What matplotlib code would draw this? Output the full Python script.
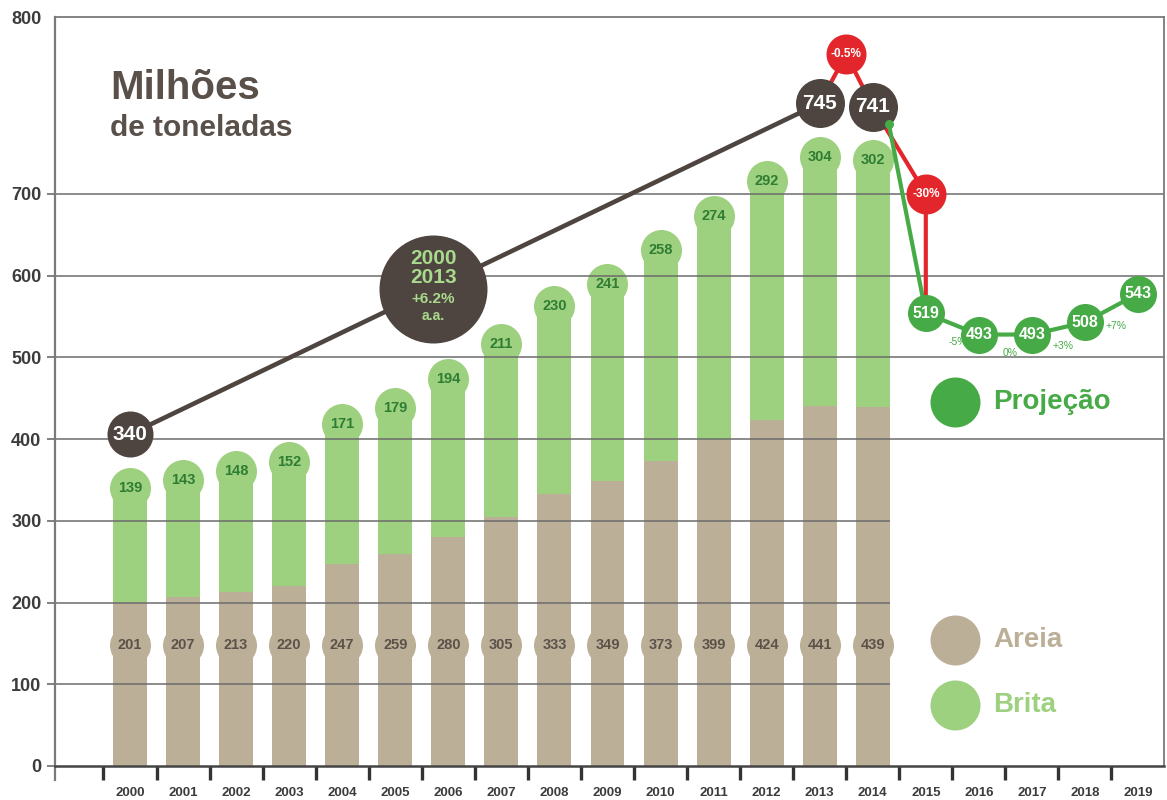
import matplotlib
matplotlib.use("Agg")
import matplotlib.pyplot as plt
import numpy as np
from matplotlib.transforms import offset_copy

plt.rcParams["font.family"] = ["Liberation Sans", "DejaVu Sans"]
plt.rcParams["font.weight"] = "bold"

# ---- data -------------------------------------------------------------
years = [2000, 2001, 2002, 2003, 2004, 2005, 2006, 2007, 2008, 2009,
         2010, 2011, 2012, 2013, 2014, 2015, 2016, 2017, 2018, 2019]
hist_years = years[:15]
areia = [201, 207, 213, 220, 247, 259, 280, 305, 333, 349, 373, 399, 424, 441, 439]
brita = [139, 143, 148, 152, 171, 179, 194, 211, 230, 241, 258, 274, 292, 304, 302]
trend_years = [2000, 2013, 2014]
trend_totals = [340, 745, 741]
proj_years = [2015, 2016, 2017, 2018, 2019]
proj_values = [519, 493, 493, 508, 543]
proj_changes = ["-5%", "0%", "+3%", "+7%"]
drop_small = "-0.5%"
drop_big = "-30%"
cagr_lines = ["2000", "2013", "+6.2%", "a.a."]
ytick_values = [0, 100, 200, 300, 400, 500, 600, 700]
ytick_labels = ["0", "100", "200", "300", "400", "500", "600", "700", "800"]

# ---- style ------------------------------------------------------------
TAN = "#bcaf98"
TAN_TXT = "#5c5249"
LGREEN = "#9dd07f"
LGREEN_TXT = "#2f7d33"
BROWN = "#4e4540"
RED = "#e2262c"
PGREEN = "#46aa46"
GRID = "#6c6c6c"
AXIS = "#3c3c3c"
CAGR_TXT = "#a9d98c"

W, H, DPI = 1167, 800, 100
PT = 72.0 / DPI  # points per pixel


def msize(diam_px):
    return (diam_px * PT) ** 2


fig = plt.figure(figsize=(W / DPI, H / DPI), dpi=DPI)
fig.patch.set_facecolor("white")
ax = fig.add_axes([55 / W, 34 / H, (1164 - 55) / W, (783 - 34) / H])

YTOP = 916.6
XL, XR = -1.414, 19.49
ax.set_xlim(XL, XR)
ax.set_ylim(0, YTOP)

xi = {y: i for i, y in enumerate(years)}
hx = np.array([xi[y] for y in hist_years])
areia = np.array(areia)
brita = np.array(brita)
totals = areia + brita

BAR_W = 0.64
ax.bar(hx, areia, width=BAR_W, color=TAN, zorder=2, linewidth=0)
ax.bar(hx, brita, bottom=areia, width=BAR_W, color=LGREEN, zorder=2, linewidth=0)

# rounded caps carrying the Brita values
ax.scatter(hx, totals, s=msize(41), color=LGREEN, zorder=2.1, linewidths=0)
for x, t, b in zip(hx, totals, brita):
    ax.text(x, t, str(b), ha="center", va="center", fontsize=10.5,
            color=LGREEN_TXT, zorder=5)

# Areia value badges
AREIA_BADGE_Y = 148
ax.scatter(hx, [AREIA_BADGE_Y] * len(hx), s=msize(41), color=TAN, zorder=2.1,
           linewidths=0)
for x, a in zip(hx, areia):
    ax.text(x, AREIA_BADGE_Y, str(a), ha="center", va="center", fontsize=10.5,
            color=TAN_TXT, zorder=5)

# grid lines: upper ones span the whole width, lower ones stop at the last bar
for v in ytick_values[1:]:
    x1 = XR if v >= 400 else hx[-1] + BAR_W / 2
    ax.hlines(v, XL, x1, color=GRID, lw=1.1, zorder=2.5)

# ---- trend (totals) ---------------------------------------------------
LIFT = 66
tx = np.array([xi[y] for y in trend_years])
ty = np.array(trend_totals) + LIFT
ax.plot(tx[:2], ty[:2], color=BROWN, lw=3.3, zorder=3, solid_capstyle="round")

# small drop between 2013 and 2014
small_x = (tx[1] + tx[2]) / 2
small_y = ty[1:].mean() + 62
for k in (1, 2):
    ax.plot([small_x, tx[k]], [small_y, ty[k]], color=RED, lw=3.0, zorder=3)
ax.scatter([small_x], [small_y], s=msize(40), color=RED, zorder=4, linewidths=0)
ax.text(small_x, small_y, drop_small, ha="center", va="center", fontsize=8.5,
        color="white", zorder=5)

# projection
PLIFT = 35
px_ = np.array([xi[y] for y in proj_years])
py_ = np.array(proj_values) + PLIFT

# big-drop marker
big_x = px_[0]
big_y = 700
ax.plot([tx[2], big_x, big_x], [ty[2], big_y, py_[0]], color=RED, lw=3.0,
        zorder=3, solid_joinstyle="round")
ax.scatter([big_x], [big_y], s=msize(40), color=RED, zorder=4, linewidths=0)
ax.text(big_x, big_y, drop_big, ha="center", va="center", fontsize=8.5,
        color="white", zorder=5)

# projection line starts on the rim of the 2014 total badge
start_disp = ax.transData.transform((tx[2], ty[2])) + np.array([16, -17])
sx, sy = ax.transData.inverted().transform(start_disp)
ax.plot([sx] + list(px_), [sy] + list(py_), color=PGREEN, lw=3.0, zorder=4.5,
        solid_joinstyle="round")
ax.scatter([sx], [sy], s=msize(9), color=PGREEN, zorder=4.6, linewidths=0)
ax.scatter(px_, py_, s=msize(37), color=PGREEN, zorder=4.7, linewidths=0)
for x, yv, v in zip(px_, py_, proj_values):
    ax.text(x, yv, str(v), ha="center", va="center", fontsize=11.5,
            color="white", zorder=5)
for i, lab in enumerate(proj_changes):
    mx = (px_[i] + px_[i + 1]) / 2
    my = (py_[i] + py_[i + 1]) / 2
    tr = offset_copy(ax.transData, fig=fig, x=5 * PT, y=-18 * PT, units="points")
    ax.text(mx, my, lab, transform=tr, ha="center", va="center", fontsize=7.5,
            fontweight="normal", color=PGREEN, zorder=5)

# total badges
ax.scatter(tx[:1], ty[:1], s=msize(46), color=BROWN, zorder=4, linewidths=0)
ax.scatter(tx[1:], ty[1:], s=msize(49), color=BROWN, zorder=4, linewidths=0)
for x, yv, v in zip(tx, ty, trend_totals):
    ax.text(x, yv, str(v), ha="center", va="center", fontsize=15,
            color="white", zorder=5)

# growth-rate badge on the trend line
t = 0.44
cx = tx[0] + t * (tx[1] - tx[0])
cy = ty[0] + t * (ty[1] - ty[0])
ax.scatter([cx], [cy], s=msize(108), color=BROWN, zorder=4, linewidths=0)
for lab, dy, fs in zip(cagr_lines, [30, 11, -10, -27], [15, 15, 11, 10]):
    tr = offset_copy(ax.transData, fig=fig, x=0, y=dy * PT, units="points")
    ax.text(cx, cy, lab, transform=tr, ha="center", va="center", fontsize=fs,
            color=CAGR_TXT, zorder=5)

# ---- legend -----------------------------------------------------------
leg_x = 15.55
leg_tx = 16.27
for yv, col, lab in [(445.5, PGREEN, "Projeção"), (154, TAN, "Areia"),
                     (74.6, LGREEN, "Brita")]:
    ax.scatter([leg_x], [yv], s=msize(50), color=col, zorder=4, linewidths=0)
    ax.text(leg_tx, yv, lab, ha="left", va="center", fontsize=20, color=col,
            zorder=5)

# ---- title ------------------------------------------------------------
fig.text(110 / W, 1 - 88 / H, "Milhões", ha="left", va="center", fontsize=29,
         color="#5a504a")
fig.text(110 / W, 1 - 128 / H, "de toneladas", ha="left", va="center",
         fontsize=21.5, color="#5a504a")

# ---- axes -------------------------------------------------------------
ax.set_yticks(ytick_values + [YTOP])
ax.set_yticklabels(ytick_labels, fontsize=13, color=AXIS)
ax.tick_params(axis="y", length=8 * PT, width=1.2, color=GRID, pad=4)
ax.yaxis.get_major_ticks()[-1].tick1line.set_visible(False)

ax.set_xticks(np.arange(-0.5, 19.0, 1.0))
ax.set_xticklabels([])
ax.tick_params(axis="x", which="major", length=14 * PT, width=2.4, color="#333333")
ax.set_xticks(np.arange(len(years)), minor=True)
ax.set_xticklabels([str(y) for y in years], minor=True, fontsize=9.5, color=AXIS)
ax.tick_params(axis="x", which="minor", length=0, pad=15)

for side in ("top", "right"):
    ax.spines[side].set_color("#7a7a7a")
    ax.spines[side].set_linewidth(1.3)
ax.spines["left"].set_color("#7a7a7a")
ax.spines["left"].set_linewidth(1.6)
ax.spines["left"].set_bounds(-17, YTOP)
ax.spines["bottom"].set_color("#444444")
ax.spines["bottom"].set_linewidth(1.8)
ax.set_facecolor("white")

fig.savefig("out.png", dpi=DPI, facecolor="white")
